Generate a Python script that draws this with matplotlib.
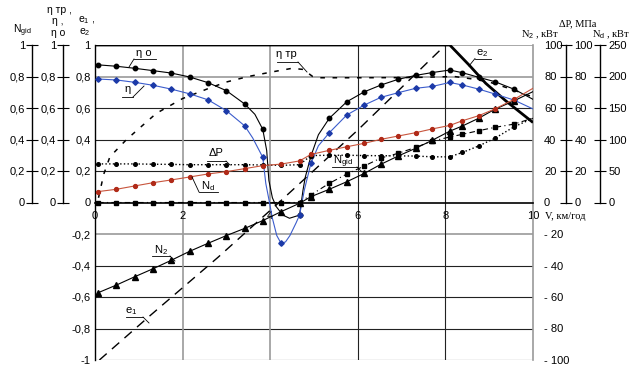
import matplotlib
matplotlib.use('Agg')
import matplotlib.pyplot as plt
from matplotlib.lines import Line2D
import numpy as np

plt.rcParams['font.family'] = ['Liberation Sans', 'DejaVu Sans']
plt.rcParams['mathtext.fontset'] = 'custom'
plt.rcParams['mathtext.rm'] = 'Liberation Sans'
plt.rcParams['mathtext.it'] = 'Liberation Sans:italic'

# ---------------- data ----------------
V = [0.07, 0.49, 0.91, 1.33, 1.74, 2.16, 2.58, 3.0, 3.42, 3.83, 4.25, 4.67, 4.93,
     5.35, 5.75, 6.15, 6.53, 6.92, 7.32, 7.7, 8.1, 8.39, 8.76, 9.13, 9.57, 10.0]
N2 = [-57.3, -52.4, -47.1, -42.0, -36.7, -31.0, -25.9, -21.0, -16.4, -11.5, -5.8, -0.5, 3.7,
      8.4, 13.2, 18.5, 24.3, 29.5, 34.4, 39.5, 45.3, 48.6, 53.5, 59.2, 64.6, 70.4]
Nd = [17.3, 21.0, 26.3, 31.5, 35.8, 40.5, 45.3, 49.0, 53.8, 58.5, 61.0, 66.0, 76.3,
      82.8, 88.5, 94.0, 100.3, 105.5, 110.8, 116.8, 122.3, 129.8, 137.8, 148.5, 163.8, 181.3]
dP = [24.5, 24.5, 24.5, 24.3, 24.2, 24.0, 24.0, 24.0, 24.0, 23.8, 23.6, 24.0, 29.8,
      30.0, 30.0, 29.8, 29.7, 29.6, 29.5, 29.0, 29.0, 31.8, 35.9, 40.8, 48.1, 53.5]
Ngid = [0, 0, 0, 0, 0, 0, 0, 0, 0, 0, 0, 0, 0.048,
        0.122, 0.181, 0.232, 0.283, 0.312, 0.35, 0.39, 0.416, 0.433, 0.456, 0.477, 0.498, 0.536]

V_eta_o = [0.07, 0.49, 0.91, 1.33, 1.74, 2.16, 2.58, 3.0, 3.42, 3.65, 3.83, 3.92, 3.97, 4.05,
           4.14, 4.29, 4.44, 4.67, 4.75, 4.8, 4.93, 5.1, 5.35, 5.75, 6.15, 6.53, 6.92, 7.32,
           7.7, 8.1, 8.39, 8.76, 9.13, 9.57, 10.0]
eta_o = [0.874, 0.865, 0.852, 0.837, 0.822, 0.797, 0.761, 0.71, 0.625, 0.56, 0.465, 0.33, 0.14, 0.03,
         -0.027, -0.08, -0.10, -0.08, 0.08, 0.16, 0.295, 0.43, 0.535, 0.64, 0.703, 0.746, 0.782, 0.807,
         0.825, 0.841, 0.824, 0.795, 0.767, 0.719, 0.655]
eta_o_marks = [0, 1, 2, 3, 4, 5, 6, 7, 8, 10, 17, 20, 22, 23, 24, 25, 26, 27, 28, 29, 30, 31, 32, 33]

V_eta = [0.07, 0.49, 0.91, 1.33, 1.74, 2.16, 2.58, 3.0, 3.42, 3.6, 3.83, 3.9, 3.97, 4.05, 4.15,
         4.25, 4.35, 4.45, 4.59, 4.67, 4.78, 4.93, 5.1, 5.35, 5.75, 6.15, 6.53, 6.92, 7.32,
         7.7, 8.1, 8.39, 8.76, 9.13, 9.57, 10.0]
eta = [0.784, 0.778, 0.763, 0.744, 0.72, 0.69, 0.652, 0.583, 0.486, 0.41, 0.287, 0.12, 0.02, -0.10, -0.21,
       -0.26, -0.25, -0.21, -0.13, -0.08, 0.08, 0.249, 0.36, 0.443, 0.556, 0.619, 0.668, 0.697, 0.725,
       0.737, 0.762, 0.746, 0.72, 0.689, 0.65, 0.594]
eta_marks = [0, 1, 2, 3, 4, 5, 6, 7, 8, 10, 15, 19, 21, 23, 24, 25, 26, 27, 28, 29, 30, 31, 32, 33, 34]

V_eta_tr = [0.08, 0.2, 0.34, 0.72, 1.4, 2.0, 2.6, 3.0, 3.5, 4.06, 4.5, 4.75, 4.97, 5.1, 6.0,
            7.0, 7.5, 8.2, 8.6, 9.0, 9.5, 10.0]
eta_tr = [0.03, 0.18, 0.29, 0.40, 0.566, 0.66, 0.725, 0.765, 0.80, 0.83, 0.852, 0.845, 0.80, 0.792, 0.792,
          0.793, 0.795, 0.80, 0.785, 0.765, 0.72, 0.67]

V_e1 = [0.1, 1.25, 2.8, 4.2, 6.0, 8.0]
e1 = [-1.0, -0.72, -0.35, 0.0, 0.46, 1.0]
V_e2 = [0.0, 8.1, 8.54, 8.92, 9.38, 10.0]
e2 = [1.0, 1.0, 0.873, 0.757, 0.645, 0.508]

x_ticks = [0, 2, 4, 6, 8, 10]
y_main_ticks = [1, 0.8, 0.6, 0.4, 0.2, 0, -0.2, -0.4, -0.6, -0.8, -1]
y_main_labels = ['1', '0,8', '0,6', '0,4', '0,2', '0', '-0,2', '-0,4', '-0,6', '-0,8', '-1']
y_left_ticks = [0, 0.2, 0.4, 0.6, 0.8, 1]
y_left_labels = ['0', '0,2', '0,4', '0,6', '0,8', '1']
n2_ticks = [100, 80, 60, 40, 20, 0, -20, -40, -60, -80, -100]
n2_labels = ['100', '80', '60', '40', '20', '0', '- 20', '- 40', '- 60', '- 80', '- 100']
dp_ticks = [0, 20, 40, 60, 80, 100]
nd_ticks = [0, 50, 100, 150, 200, 250]

# ---------------- layout ----------------
W, H = 637, 368
fig = plt.figure(figsize=(W / 100, H / 100), dpi=100)
fig.patch.set_facecolor('white')


def fx(px):
    return px / W


def fy(py):
    return 1 - py / H


L, R, T, B = 95, 533, 45, 360
ax = fig.add_axes([fx(L), fy(B), fx(R) - fx(L), fy(T) - fy(B)])
ax.set_xlim(0, 10)
ax.set_ylim(-1, 1)
ax.patch.set_alpha(0)
for s in ['top']:
    ax.spines[s].set_visible(False)
ax.spines['right'].set_color('#9a9a9a')
ax.spines['right'].set_linewidth(1.2)
ax.spines['left'].set_color('k')
ax.spines['left'].set_linewidth(1.0)
ax.spines['bottom'].set_position(('data', 0))
ax.spines['bottom'].set_color('k')
ax.spines['bottom'].set_linewidth(1.2)
ax.set_xticks(x_ticks)
ax.set_xticklabels([str(t) for t in x_ticks])
ax.tick_params(axis='x', length=0, pad=6, labelsize=8)
ax.set_yticks(y_main_ticks)
ax.set_yticklabels(y_main_labels)
ax.tick_params(axis='y', length=0, pad=3, labelsize=8)

# grid lines
gray_h = [0.8, -0.2, 1.0]
for yv in y_main_ticks:
    if yv == 0:
        continue
    if yv in gray_h:
        ax.axhline(yv, color='#9a9a9a', lw=1.2, zorder=0.5)
    else:
        ax.axhline(yv, color='#222222', lw=0.8, zorder=0.5)
for xv in [2, 4, 6, 8]:
    if xv in (2, 4):
        ax.axvline(xv, color='#9a9a9a', lw=1.2, zorder=0.5)
    else:
        ax.axvline(xv, color='#222222', lw=0.8, zorder=0.5)


def extra_axis(ylim, pos, side, ticks, labels, bounds, tick_len=8, pad=2.0, color='k'):
    a = ax.twinx()
    a.set_ylim(*ylim)
    for s in a.spines.values():
        s.set_visible(False)
    sp = a.spines[side]
    sp.set_visible(True)
    sp.set_position(('axes', pos))
    sp.set_color(color)
    sp.set_linewidth(1.0)
    if bounds is not None:
        sp.set_bounds(*bounds)
    if side == 'left':
        a.yaxis.tick_left()
    else:
        a.yaxis.tick_right()
    a.set_yticks(ticks)
    a.set_yticklabels(labels)
    a.tick_params(axis='y', direction='inout', length=tick_len, width=0.8, pad=pad, labelsize=8)
    return a


ax_ng = extra_axis((-1, 1), (32 - L) / (R - L), 'left', y_left_ticks, y_left_labels, (0, 1))
ax_eta = extra_axis((-1, 1), (63 - L) / (R - L), 'left', y_left_ticks, y_left_labels, (0, 1))
ax_n2 = extra_axis((-100, 100), 1.0, 'right', n2_ticks, n2_labels, None, tick_len=0, pad=8)
ax_n2.spines['right'].set_visible(False)
ax_dp = extra_axis((-100, 100), (566 - L) / (R - L), 'right', dp_ticks,
                   [str(t) for t in dp_ticks], (0, 100), pad=2)
ax_nd = extra_axis((-250, 250), (600 - L) / (R - L), 'right', nd_ticks,
                   [str(t) for t in nd_ticks], (0, 250), pad=2)
ax_ng.yaxis.set_tick_params(pad=1)
ax_eta.yaxis.set_tick_params(pad=1)

# ---------------- series ----------------
ax.plot(V_e1, e1, color='k', lw=1.0, dashes=(7, 5), zorder=3)
ax.plot(V_e2, e2, color='k', lw=2.0, zorder=3, solid_capstyle='butt')
ax.plot(V_eta_tr, eta_tr, color='k', lw=1.1, dashes=(3, 5), zorder=3)
ax.plot(V_eta_o, eta_o, color='k', lw=0.8, marker='o', ms=3.2, markevery=eta_o_marks, zorder=4)
ax.plot(V_eta, eta, color='#3b5ccc', lw=0.8, marker='D', ms=2.8, mfc='#1c3aa8', mec='#1c3aa8',
        markevery=eta_marks, zorder=4)
mk = list(range(len(V) - 1))
ax.plot(V, Ngid, color='k', lw=0.8, dashes=(5, 3, 1, 3), marker='s', ms=3.2, markevery=mk, zorder=4)
ax_n2.plot(V, N2, color='k', lw=0.8, marker='^', ms=3.8, markevery=mk, zorder=4)
ax_dp.plot(V, dP, color='k', lw=1.0, ls=':', marker='o', ms=2.6, markevery=mk, zorder=4)
ax_nd.plot(V, Nd, color='#c8553d', lw=0.8, marker='o', ms=2.8, mfc='#b02a18', mec='#b02a18',
           markevery=mk, zorder=4)

# ---------------- annotations ----------------


def callout(text, tx, ty, ux0, ux1, uy, lx0, ly0, lx1, ly1, fs=8):
    fig.text(fx(tx), fy(ty), text, ha='center', va='center', fontsize=fs)
    fig.add_artist(Line2D([fx(ux0), fx(ux1)], [fy(uy), fy(uy)], color='k', lw=0.6))
    fig.add_artist(Line2D([fx(lx0), fx(lx1)], [fy(ly0), fy(ly1)], color='k', lw=0.6))


callout('η о', 144, 53, 134, 156, 59, 134, 59, 129, 67)
callout('η', 128, 89, 122, 133, 97, 133, 97, 144, 86)
callout('ΔР', 216, 153, 207, 226, 161, 226, 161, 230, 165)
callout(r'N$_\mathrm{d}$', 208, 186, 199, 218, 192, 199, 192, 192, 177)
callout(r'N$_2$', 161, 250, 152, 170, 256, 170, 256, 175, 261)
callout(r'e$_1$', 131, 311, 126, 143, 317, 143, 317, 149, 323)
callout(r'e$_2$', 482, 53, 475, 491, 58.5, 475, 58.5, 469, 66)
callout('η тр', 286, 54, 277, 298, 62, 298, 62, 307, 72)
callout(r'N$_\mathrm{gid}$', 343, 162, 332, 357, 167, 357, 167, 362, 172)

# axis titles
fig.text(fx(22), fy(31), r'N$_\mathrm{gid}$', ha='center', va='center', fontsize=7.5)
fig.text(fx(59), fy(10), 'η тр ,', ha='center', va='center', fontsize=7.5)
fig.text(fx(58), fy(21), 'η ,', ha='center', va='center', fontsize=7.5)
fig.text(fx(58), fy(33), 'η о', ha='center', va='center', fontsize=7.5)
fig.text(fx(87), fy(20), r'e$_1$ ,', ha='center', va='center', fontsize=7.5)
fig.text(fx(85), fy(32), r'e$_2$', ha='center', va='center', fontsize=7.5)
fig.text(fx(540), fy(35), r'N$_2$ , кВт', ha='center', va='center', fontsize=7.5,
         family=['Liberation Serif', 'DejaVu Serif'])
fig.text(fx(578), fy(24), 'ΔР, МПа', ha='center', va='center', fontsize=7.5,
         family=['Liberation Serif', 'DejaVu Serif'])
fig.text(fx(611), fy(35), r'N$_\mathrm{d}$ , кВт', ha='center', va='center', fontsize=7.5,
         family=['Liberation Serif', 'DejaVu Serif'])
fig.text(fx(545), fy(216), 'V, км/год', ha='left', va='center', fontsize=7.5,
         family=['Liberation Serif', 'DejaVu Serif'])

fig.savefig('out.png', dpi=100, facecolor='white')
